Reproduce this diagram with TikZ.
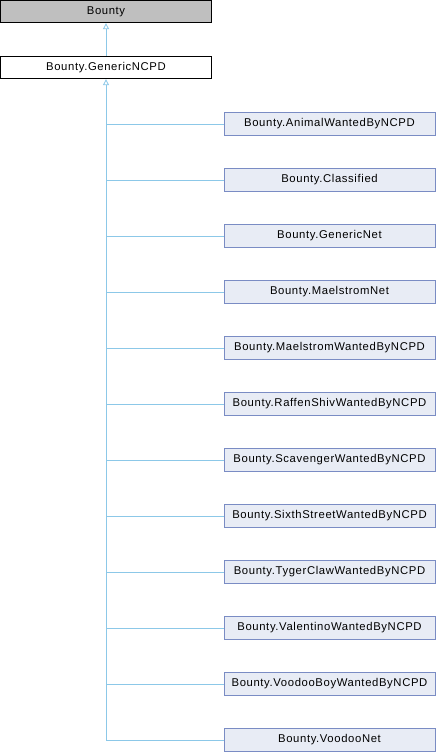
\documentclass[tikz,border=0pt]{standalone}
\usepackage{fontspec}
\setmainfont{Liberation Sans}[LetterSpace=5.5]
\usetikzlibrary{arrows.meta}
\definecolor{edgec}{RGB}{140,200,232}
\definecolor{childfill}{RGB}{232,236,245}
\definecolor{childdraw}{RGB}{122,140,196}
\definecolor{rootfill}{RGB}{191,191,191}
\tikzset{
  base/.style={draw, line width=0.8pt, minimum width=211pt, minimum height=22.5pt, inner sep=0pt, font=\fontsize{11.3}{13}\selectfont, anchor=center},
  rootbox/.style={base, fill=rootfill, draw=black},
  plainbox/.style={base, fill=white, draw=black},
  childbox/.style={base, fill=childfill, draw=childdraw},
  edge/.style={draw=edgec, line width=0.8pt},
  inh/.style={edge, -{Triangle[open=false, length=6pt, width=6pt]}},
}
\begin{document}
\begin{tikzpicture}[x=1pt, y=-1pt]
\useasboundingbox (0,0) rectangle (436,752);
\node[rootbox] (root) at (106,11.5) {Bounty};
\node[plainbox] (gen) at (106,67.5) {Bounty.GenericNCPD};
\foreach \n [count=\i from 0] in {AnimalWantedByNCPD,Classified,GenericNet,MaelstromNet,MaelstromWantedByNCPD,RaffenShivWantedByNCPD,ScavengerWantedByNCPD,SixthStreetWantedByNCPD,TygerClawWantedByNCPD,ValentinoWantedByNCPD,VoodooBoyWantedByNCPD,VoodooNet}{
  \node[childbox] (c\i) at (329.5,{124+56*\i}) {Bounty.\n};
}
\draw[inh] (gen.north) -- (root.south);
\coordinate (bend) at (gen.south |- c11.west);
\draw[inh] (bend) -- (gen.south);
\foreach \i in {0,...,11}{
  \draw[edge] (c\i.west) -- (gen.south |- c\i.west);
}
\end{tikzpicture}
\end{document}
